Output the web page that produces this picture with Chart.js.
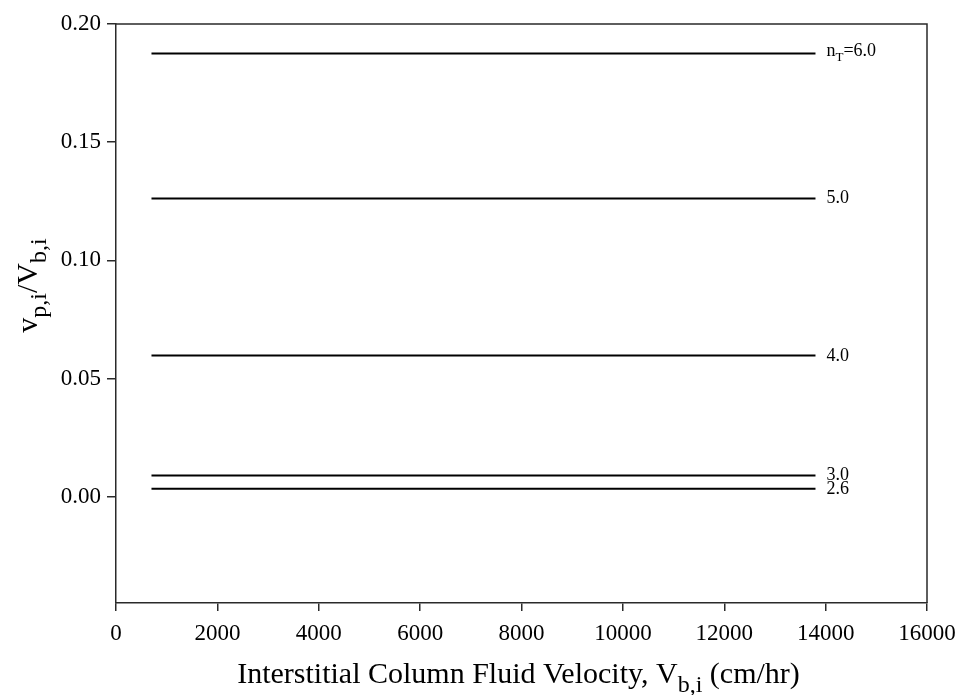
<!DOCTYPE html>
<html>
<head>
<meta charset="utf-8">
<script src="https://cdn.jsdelivr.net/npm/chart.js@4.4.0/dist/chart.umd.min.js"></script>
<style>
  html, body { margin: 0; padding: 0; background: #fff; }
  #wrap { width: 958px; height: 695px; position: relative; }
</style>
</head>
<body>
<div id="wrap"><canvas id="myChart" width="958" height="695"></canvas></div>
<script>
// velocity range covered by each curve (cm/hr)
const velocities = [700, 13800];
// number of transfer units for each curve
const nT = ['6.0', '5.0', '4.0', '3.0', '2.6'];
// vp,i / Vb,i for each nT (flat over the velocity range)
const ratioNT60 = [0.1875, 0.1875];
const ratioNT50 = [0.1262, 0.1262];
const ratioNT40 = [0.0597, 0.0597];
const ratioNT30 = [0.0090, 0.0090];
const ratioNT26 = [0.0033, 0.0033];
const yTicks = [0.00, 0.05, 0.10, 0.15, 0.20];
const xTicks = [0, 2000, 4000, 6000, 8000, 10000, 12000, 14000, 16000];

const serif = "'Liberation Serif', 'DejaVu Serif', serif";
const axisColor = '#2a2a2a';

const seriesValues = [ratioNT60, ratioNT50, ratioNT40, ratioNT30, ratioNT26];
const datasets = seriesValues.map((vals, i) => ({
    label: nT[i],
    data: velocities.map((v, j) => ({ x: v, y: vals[j] })),
    borderColor: '#000',
    borderWidth: 2,
    pointRadius: 0,
    showLine: true,
    fill: false
}));

// draws text with subscript pieces: parts = [[text, isSub], ...]
function drawRich(ctx, parts, x, y, size, align, subRatio) {
    const subSize = Math.round(size * (subRatio || 0.75));
    let total = 0;
    parts.forEach(p => {
        ctx.font = (p[1] ? subSize : size) + 'px ' + serif;
        total += ctx.measureText(p[0]).width;
    });
    let cx = align === 'center' ? x - total / 2 : x;
    ctx.textAlign = 'left';
    ctx.textBaseline = 'alphabetic';
    parts.forEach(p => {
        ctx.font = (p[1] ? subSize : size) + 'px ' + serif;
        ctx.fillText(p[0], cx, p[1] ? y + size * 0.3 : y);
        cx += ctx.measureText(p[0]).width;
    });
}

// box frame, curve labels and axis titles
const decorations = {
    id: 'decorations',
    afterDraw(chart) {
        const ctx = chart.ctx;
        const area = chart.chartArea;
        const xs = chart.scales.x;
        const ys = chart.scales.y;
        ctx.save();
        ctx.strokeStyle = axisColor;
        ctx.lineWidth = 1.5;
        ctx.beginPath();
        ctx.moveTo(area.left, area.top);
        ctx.lineTo(area.right, area.top);
        ctx.lineTo(area.right, area.bottom);
        ctx.stroke();

        ctx.fillStyle = '#000';
        chart.data.datasets.forEach((ds, i) => {
            const last = ds.data[ds.data.length - 1];
            const px = xs.getPixelForValue(last.x) + 11;
            const py = ys.getPixelForValue(last.y) + 5;
            if (i === 0) {
                drawRich(ctx, [['n', false], ['T', true], ['=' + ds.label, false]], px, py - 3, 18, 'left', 0.7);
            } else {
                drawRich(ctx, [[ds.label, false]], px, py, 18, 'left');
            }
        });

        // x axis title
        drawRich(ctx, [['Interstitial Column Fluid Velocity, V', false], ['b,i', true], [' (cm/hr)', false]],
            (area.left + area.right) / 2 - 3, 683, 30, 'center', 0.8);

        // y axis title
        ctx.translate(37, (area.top + area.bottom) / 2 - 28);
        ctx.rotate(-Math.PI / 2);
        drawRich(ctx, [['v', false], ['p,i', true], ['/V', false], ['b,i', true]], 0, 0, 30, 'center', 0.8);
        ctx.restore();
    }
};

const ctx = document.getElementById('myChart').getContext('2d');
new Chart(ctx, {
    type: 'scatter',
    data: { datasets: datasets },
    options: {
        responsive: false,
        animation: false,
        layout: { padding: { top: 24, right: 31, left: 0, bottom: 0 } },
        plugins: {
            legend: { display: false },
            tooltip: { enabled: false }
        },
        scales: {
            x: {
                type: 'linear',
                min: 0,
                max: 16000,
                afterBuildTicks: axis => { axis.ticks = xTicks.map(v => ({ value: v })); },
                afterFit: axis => {
                    axis.height = 92;
                    axis.paddingLeft = 0;
                    axis.paddingRight = 0;
                },
                ticks: {
                    color: '#000',
                    font: { family: serif, size: 23 },
                    padding: 9,
                    maxRotation: 0,
                    callback: v => String(v)
                },
                grid: { drawOnChartArea: false, tickLength: 8, color: axisColor, lineWidth: 1.5 },
                border: { color: axisColor, width: 1.5 }
            },
            y: {
                type: 'linear',
                min: -0.045,
                max: 0.20,
                afterBuildTicks: axis => { axis.ticks = yTicks.map(v => ({ value: v })); },
                afterFit: axis => {
                    axis.width = 116;
                    axis.paddingTop = 0;
                    axis.paddingBottom = 0;
                },
                ticks: {
                    color: '#000',
                    font: { family: serif, size: 23 },
                    padding: 6,
                    callback: v => v.toFixed(2)
                },
                grid: { drawOnChartArea: false, tickLength: 9, color: axisColor, lineWidth: 1.5 },
                border: { color: axisColor, width: 1.5 }
            }
        }
    },
    plugins: [decorations]
});
</script>
</body>
</html>
